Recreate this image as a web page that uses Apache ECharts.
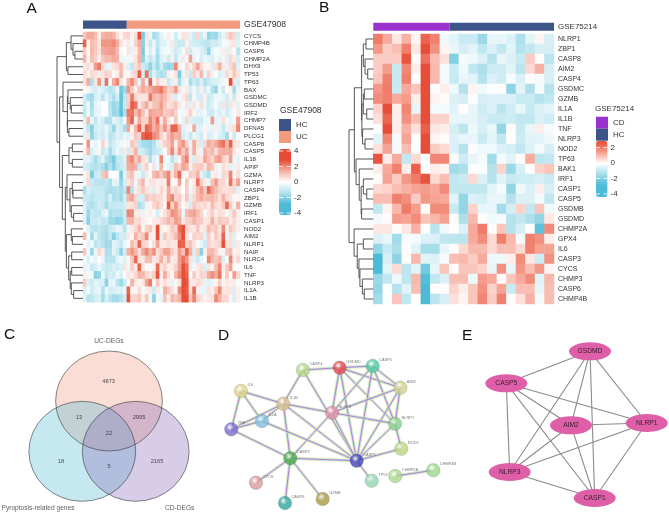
<!DOCTYPE html>
<html><head><meta charset="utf-8">
<style>html,body{margin:0;padding:0;background:#fff}#c{width:669px;height:513px}</style>
<script src="https://cdn.jsdelivr.net/npm/echarts@6/dist/echarts.min.js"></script>
</head><body><div id="c"></div>
<script>
// ---------- Panel A data ----------
const genesA=['CYCS','CHMP4B','CASP6','CHMP2A','DHX9','TP53','TP63','BAX','GSDMC','GSDMD','IRF2','CHMP7','DFNA5','PLCG1','CASP8','CASP5','IL18','APIP','GZMA','NLRP7','CASP4','ZBP1','GZMB','IRF1','CASP1','NOD2','AIM2','NLRP1','NAIP','NLRC4','IL6','TNF','NLRP3','IL1A','IL1B'];
const groupCountsA={HC:12,UC:31};
const valuesA=[
[1,1.5,1.5,1.2,.3,1.3,1.5,1.5,1.3,.6,.2,.7,.8,.2,.6,2.8,-2.2,.5,-.4,-1.6,-1.3,-.5,-.2,.3,-.2,-.9,-.2,.5,.5,-.5,-1,.7,-.9,-.4,-1.9,-1.6,-1.8,-.9,-.4,.6,1,.7,-.8],
[2.5,.3,1.2,1,.5,1.8,1.8,1.8,2,1.5,.5,.2,.4,-.3,.8,1.5,-2,.3,-1,-.4,-1.2,-.6,-.6,-.3,.4,-.8,-1,-1,.3,-.7,-.8,-.9,-1,-1.2,-1.2,-.9,-.9,-.7,-.2,-.2,.4,.5,-.6],
[1,.2,1.3,1,.5,1.5,1.6,1.7,1.7,1.2,.1,0,.5,-.5,.3,1.2,-2.2,.1,-.7,-.3,-1.5,-.5,-.3,-.2,-.5,-.9,-.6,-.2,.6,-.9,-.4,-.3,-.7,-.9,-1.9,-.5,-.2,-.3,.3,-.6,.4,-.2,-1.3],
[1.3,.2,1.2,.8,.3,1,1.3,1.3,1.5,1.4,-.4,-.3,-.3,.2,.5,1.4,-2,-.6,-1.1,-.7,-1.6,-.7,-.5,-.9,.3,-1.1,-.4,.4,-.3,1.6,-.5,-.2,-.8,-.4,-.6,-.7,-.3,-.5,.2,-.7,.7,.4,-.8],
[.4,.6,.3,1.7,2.2,.7,-.5,-.4,.5,.7,1.2,.3,-.7,-1.2,.6,1,-.9,-1.2,-1.9,-1,-1.7,-.8,-1.6,-1.8,-1.7,2,.3,-.2,.7,.3,.8,1.6,.6,.2,.2,-.6,.6,1.4,.4,-.5,.7,1.1,-.6],
[.6,.3,.7,.5,.4,.5,.8,.7,.1,.3,1.3,.2,-.1,.5,.7,2.6,-.8,2.3,-1.5,-.6,-1.2,-1.5,-1.3,.3,.1,.5,-2.2,-.4,.5,-1,.9,.4,1.3,-.5,.8,-.4,.1,-.7,-.5,.7,.3,1,.5],
[.5,1.5,-1.5,.5,1.8,-.7,2.3,-.3,1.5,2,.4,.2,1.3,2,1,-.5,1.5,-.5,2.5,.2,.8,.3,.3,-1,-.5,.3,-1.5,-.5,-.3,-1.5,-1,-1.3,-.7,-1.4,-1,-.8,-.7,-.5,-.3,.2,2.8,.4,-.8],
[.1,.2,-.6,-.8,-.5,-.7,-1,-1.3,-1.1,-.4,-2.3,-1.7,1.8,1,.3,1,1.5,1.2,1.5,1.8,1.9,2.2,1.5,.8,1,1.7,.5,-.3,.4,-.8,-.3,-.8,.3,-.9,-.4,-1.4,-1.8,-.3,-1,.1,.3,-1.6,-.4],
[-.8,-1.5,-1.7,-.8,-.6,-1.3,-.5,-1,-1.5,-.8,-2.5,-1.2,.8,2.2,.7,.5,.5,.5,2.2,1.3,1.1,1.5,1.2,.7,.5,-.8,-.2,.4,.7,-1.2,.2,-.7,-.8,.3,-1,-.8,-.3,-.3,-.5,-.9,.3,-1,.2],
[-1,-.4,-1.6,-.5,-.3,0,0,-1.4,-1.8,-1.5,-2.5,-1,1,2.6,2.3,.4,1,1.5,.5,1.1,1.2,1.7,1,.5,.7,1,.4,-.3,.5,-.6,.5,-.3,.6,-.5,-1,-.6,-.2,-.6,.5,-.9,.5,.3,-.5],
[-1.2,-.3,-1.4,-.5,-.4,-.1,-.1,-1.2,-1.8,-1.7,-2.6,-1.5,2.2,2.3,1.2,1.8,1.1,.3,1.6,1.5,1.4,1.5,.9,1,1.2,.8,-.2,-.3,.3,.8,.2,-.5,-.5,-.3,-.9,-1,-.4,-.7,-.4,-.9,-.5,-.2,.4],
[-.6,1.2,-.4,-1.1,-.5,-.8,-1.5,-1.4,-.5,-.7,-1.1,-.3,1.8,2.5,.3,1.5,.8,.8,2,1.4,2.3,.4,1.5,.5,-.2,1,-.2,-.5,.7,-.6,-.8,-.8,-.9,-.4,-.3,1.7,-.5,-.4,.6,-.2,-.5,-.3,1.7],
[-.4,-1.2,-2,-.8,-.7,-.8,-.4,-1,-1.8,-.7,-.8,-1.6,1.5,.2,1.3,2.5,.8,2.5,2.2,1.4,1.8,1,1.8,.8,2.5,2.5,1.3,-.7,.3,-.3,1.5,-.6,-.6,.2,-.4,-.5,.3,-.5,-1,-.5,.4,.6,2],
[-.6,.5,-1.9,-1,-.7,-.9,-.5,-1.3,-1.1,-.6,-.8,-.4,-.6,.3,1,.8,2.5,2.8,2.7,2,1.7,.8,.4,1.2,1.7,1.3,1.5,-.8,-.5,-1.1,-.4,-.6,-.9,.2,-.8,-.6,-.3,-.7,-.9,-1.7,.2,-.9,-.2],
[0,1.8,-.2,-.5,-.2,.8,.2,-1.2,-.8,-.5,-.3,.2,-.4,1,.7,-1.2,-1.6,-1.7,-1.8,-1.4,-.6,.4,.8,1,1.6,.3,1.4,1.8,.8,-.5,1.5,.5,-.8,.7,1.5,1.2,1.5,2,2.3,1.3,2.5,.5,.4],
[.3,1.3,-.8,-.4,.2,-1,-.7,-1.6,-.9,-.4,-.7,.4,-.9,.6,1.4,-.8,-.9,-1.3,-1.7,-1.2,-1,-.7,0,1,2,.5,1.8,1,1.6,-.6,1.4,.3,-.4,1.4,1,1.3,.6,1.3,1.5,1.4,1.5,.4,.2],
[-.6,-.5,-.9,-1.6,-1,-.5,-1.5,-1.7,-2.2,-1.1,-1,-.6,1.6,2,1,1.5,.5,.4,-1.5,-.6,-.3,2,-.3,-.2,-1.3,-.6,.2,1.5,2.1,.3,-.8,.5,.4,1.6,1.1,.7,1.5,1.7,.9,.5,1.6,-.3,-.5],
[-.8,-1,-1.3,-1.4,-1.2,-1.5,-2,-1.4,-2,-1.3,-1,-.7,1.5,1.6,1.4,-1,.5,.8,-.1,.5,-.4,1.3,-.2,-.5,-.7,1.2,.8,1.6,1.4,.3,.8,.9,1,.5,1.3,1,.3,-.3,.6,.4,-.6,-.4,.4],
[.2,.5,-2.2,-1,-.9,1,1.3,0,0,-.2,-2.2,-.5,.9,1.2,.2,-.4,-1,.4,-.2,1.2,1.5,.9,1.5,2,.5,1.4,2.4,.2,.2,.9,.8,1.4,-.6,-1,-1.5,.3,.4,-.3,.7,.6,2,.1,.6],
[-.3,.7,-1,-1.3,-1.3,-1.3,-1.1,-1.5,-.5,-.6,-1.9,-.8,.5,.9,-.3,.8,1.3,-.2,.5,.5,.3,.4,.3,2.2,-.2,.1,1.6,0,1,-.2,.4,2.3,.9,.3,-.4,1.1,1.7,.7,.7,.4,2.3,.6,1.6],
[-1.5,-.7,-1,-1,-1,-1,-1.4,-1.5,-1.4,-1.3,-1.6,-1.2,2,-1.4,.3,.6,1,.5,.4,-.7,.3,.7,.3,1.5,.5,.8,.4,0,.9,-.3,.5,1.2,1.7,1,2.4,1.6,1.2,.8,.6,.5,.6,.7,-.6],
[-1,-1,-1.3,-1,-1,-1,-1.4,-.7,-1.5,-1.3,-1.7,-.8,1.3,1.6,.7,-.8,-.8,1,.7,.9,.7,.6,.3,1.6,2,.7,.9,.3,1,-.6,.7,1.2,1.5,1.1,1.2,1.3,1,.6,1.4,.7,.5,-.2,.2],
[-.7,-1.3,-1.5,-1.2,-.9,-1,-1.6,-1.1,-1.1,-1,-1,-.8,.5,.6,.8,-1.5,-1.2,.3,.2,.7,1,.6,.2,2.6,.8,1.8,.8,.1,.4,-.8,1,.7,.6,.7,.4,1.2,.7,.5,1,2.4,.9,-.4,1.4],
[-.5,-1.8,-1,-1.2,-1.2,-.7,-.3,-1.5,-1.3,-1.3,-1.4,-.9,2,2,.3,.4,-.5,.2,.3,-.2,-.8,.2,.5,1,1.9,1.7,1.2,-.5,1.2,1.5,1.6,1.2,.8,-.2,.5,.9,.3,.6,.5,-.3,.5,1,.3],
[-.6,-2,-1,-1,-.8,-1.1,-1,-1.7,-1.7,-2,-1.8,-1,1.3,1.4,.6,.7,.3,.2,0,.4,.4,.7,1,1.3,1,1.7,1.5,.4,.8,.9,1.4,1,.9,.4,.5,1.4,.6,1,.8,.9,.3,.7,.3],
[.1,-.6,-1.2,-1.3,-1.1,-1.3,-1.5,-1,-.8,-.4,-.6,-1.3,-.3,.4,.7,1.3,.2,.8,1,.3,2.8,.3,.2,.4,1,.8,2.4,2.8,.8,.5,.4,1,.3,.5,1.2,.8,1,.5,1.9,.3,1,.6,.3],
[1.2,-.2,-1.6,-.5,-1.2,-1.4,-1.6,-1.1,-2,-1.2,-.8,-.9,.4,.2,1.4,.8,1,2,.3,.3,2.8,-.5,1,.5,.7,1.2,2,2.8,.6,-.3,.8,.7,.7,-.6,.9,.3,1,.6,2.5,-.4,.6,-.6,-.1],
[0,-.5,-.3,-1.2,-1,-1.3,-1.7,-1.6,-.5,-.7,-1.1,-.4,-.2,1.2,.7,2.5,.8,.7,-.2,.6,1.6,.4,.4,.6,.4,.4,2.6,2.5,.8,1.1,.5,-.2,-.4,-1,.8,.5,.6,.8,2.8,.5,.6,-.7,.4],
[1,-.3,-1.8,-.4,.7,.3,-1.5,-1.4,-.5,-1,-1.9,-.8,1.4,1.8,1.3,.6,1.5,2,1.4,1.9,.6,1,1.6,1.6,.9,.5,1.7,1.1,2.5,1.4,-.7,.8,-2,.3,1.2,1.3,.8,.3,-.3,1,1.2,.2,.4],
[-.2,-.7,-.2,-.5,0,-.4,-1.3,-1.3,-1.3,-.6,-.3,-.6,.2,1,2.4,.5,.4,1.2,1.2,.4,.6,1.4,.5,1.3,.3,.5,1.7,2.3,1.8,.5,-.6,-1,-.4,.1,2,1.3,1,1.3,-.7,-.1,2,.3,.7],
[-.5,-.4,-1,-.8,-.4,-.8,-1,-1,-.7,-.9,-.7,.5,-.4,.9,.4,2.5,.5,.1,-.2,.3,2.4,.5,.8,.3,.4,.8,1.7,2.8,2.3,.4,-.3,.4,.6,-.7,.5,.2,1.2,2,.3,1,1.6,.1,-.1],
[.3,-.3,-.2,-2,-1.8,-.3,-1.2,-.8,-.9,-.3,-.7,-.1,.5,.3,.7,1.4,1.3,.7,.5,.9,2.7,.3,1.5,.6,.1,1.3,2,2.8,2.5,-.2,.9,.3,.8,.7,1.5,1.9,1.5,2.3,.2,1,.1,1.7,.7],
[.9,-.7,-.9,-.5,-.7,-.7,-2,-.5,-.4,-1.3,-1.7,-1,-.2,1.4,.4,.2,.4,1.6,2.2,-.2,1,.3,.6,.3,-.5,.2,.5,2.8,2.7,.4,.4,.7,.5,-.5,-.6,-.4,.2,.9,.2,.4,.3,.4,-.2],
[-.8,-.2,-.9,-.6,-.4,-1.4,-.4,-.8,-.7,-.5,-.7,-.4,2.5,.2,.2,.6,-.2,.3,.4,-1,.4,-.3,1.5,1,.6,.2,2,2.8,2.6,.6,2.4,.3,-.4,-.5,.5,.3,1,2,.5,.5,.5,-.7,.3],
[-.5,-1.3,-1.2,-.8,-.7,-1.6,-.7,-1.3,-1.6,-1.6,-1.3,-.8,2.7,.7,.8,1,.3,1,-.4,-2,-.2,-.5,1.1,.3,1.3,1,1.4,2.8,2.8,1,2.1,.8,.5,.2,.4,.5,2,1.4,.7,.7,.2,-.8,.3]
];
// row dendrogram A: [height, childA, childB], leaves are row indices
const treeA=[1,
 [.64,[.46,0,[.385,1,[.31,2,3]]],[.58,4,5]],
 [.9,
  [.77,6,[.6,[.58,7,[.49,8,[.45,9,10]]],[.6,11,[.54,12,13]]]],
  [.795,
   [.54,[.41,14,15],[.41,16,17]],
   [.68,
    [.615,18,[.5,[.41,19,[.385,20,21]],[.45,22,[.36,23,24]]]],
    [.64,[.45,25,[.41,26,27]],[.55,[.435,28,29],[.49,[.435,30,31],[.45,32,[.36,33,34]]]]]
   ]
  ]
 ]
];
const ticksA=[4,2,0,-2,-4];

// ---------- Panel B data ----------
const genesB=['NLRP1','ZBP1','CASP8','AIM2','CASP4','GSDMC','GZMB','IL1A','IL1B','TNF','NLRP3','NOD2','TP63','BAK1','IRF1','CASP1','CASP5','GSDMB','GSDMD','CHMP2A','GPX4','IL6','CASP3','CYCS','CHMP3','CASP6','CHMP4B'];
const groupCountsB={CD:8,HC:11};
const valuesB=[
[2,1.2,.3,1.1,.1,2.4,1.9,-.3,-.5,-.9,-.9,-1.6,-.4,-.4,-.6,-1.3,-.5,.1,-.7],
[1.5,.7,.9,1.9,.3,2.8,1.6,.1,-.4,-.7,-.5,-1,-.6,-1,-.5,-1.2,-1,-.7,-.7],
[.7,.7,.7,2.7,0,2.2,.9,.4,-2,-.2,-.3,-.6,-1.2,-.4,-.6,-.9,.7,0,-1.1],
[.7,1.4,-.9,1.8,.2,2.8,1,-.2,-.9,-.3,-1,-1.3,-.8,-.8,-.5,-1.1,.5,1.1,-.7],
[.8,1.9,-.9,1.9,-.1,2.8,1,-.2,-.9,-.4,-.5,-1.2,-.6,-.8,-.2,-.6,0,-.2,-.7],
[1.5,2,-.9,1.2,.8,2.8,-.1,.2,-.3,-1.2,.1,-.3,-.1,0,-1.8,-.5,-1.3,-.2,-1.2],
[1.7,1.9,1.2,1.4,.2,2.8,.1,0,-.6,-.7,-.1,-.7,-.6,-.6,-.6,-.9,-.9,-1.2,-1],
[.6,2.8,.2,1.8,-.4,2.8,-.2,-.2,-.5,0,-.4,-.8,-.6,-1.1,-.8,-.4,-.9,-.6,-.5],
[.4,2.4,.2,1.6,.9,2.8,.6,.6,-.4,-.4,-.4,-.7,-.9,-.9,-.8,-1,-1,-.6,-.8],
[-.1,2.8,.2,1.1,.4,2.5,.3,.2,-.7,-1.1,-.3,-.7,-.4,-1.7,0,-.9,-.4,.2,-.2],
[-.5,1.8,-.2,1.3,-.1,2.8,.1,0,-.6,-.4,-.4,-.9,-.5,-1,0,-.8,-.5,-.5,-.3],
[.4,1.3,-.2,.9,-.1,2.8,.7,.5,-.6,-1.2,0,-.3,-.3,-.6,-.7,-1,-.6,-.2,-.7],
[2.7,.2,1.2,-1,.5,-.1,1.8,1.8,0,-.8,-.4,-.2,-1.5,-.2,-.5,0,1.2,-1.1,-1],
[.2,1.2,1.9,.2,2.5,-.1,.2,.1,-1.5,-1.3,-.1,-.1,-1.2,.6,-1.6,-.7,0,.6,.8],
[0,1.3,.7,1.5,2,2.7,.5,.9,-1,-.9,.5,-.6,-1.2,-.5,-.9,-.8,-.8,-.7,-.9],
[.5,.6,.9,1.1,1.3,1.4,1.2,1.7,-1,-1,-1,-1,-.5,-.2,-1.7,-.3,-.6,.2,-.7],
[.9,.9,1.9,1.6,.7,1.5,1.3,1.2,-.5,-1.7,-.6,-.7,-.4,-.4,-1.2,-.6,-.6,-.2,-1],
[-1,.1,1,2,1.4,-.1,1.7,1.7,-.9,-1.7,.6,-.4,-.4,-1.5,-.7,.6,-1,.8,-.3],
[-.2,0,1.4,1.3,1.7,.8,1,1.3,0,-1.3,1,0,-.3,-.2,-1.2,-1,-1.3,-1.7,.3],
[.3,.3,0,.3,1.1,-.1,-1.1,-.3,0,-.6,1.2,2,0,.8,-1.2,-.7,0,-2.6,1.7],
[-.6,-.4,-1.5,-.2,-.2,-.6,-.6,-1,-1.1,-1.1,1.2,1.7,.5,1.9,1,-.2,1.9,1.6,.2],
[-1.7,-.9,-1.3,0,-.5,-1.4,-1.4,-.4,0,.5,1,1,.5,.9,.9,.5,1.9,1.3,1.3],
[-3.5,-.7,-1.8,0,1,-.5,-.6,-.2,.9,1,.7,1.2,-.3,-.3,.2,1.7,.3,-.8,1.6],
[-3.5,-.5,.5,-1.1,-.5,-2.2,-.4,.8,0,.8,.8,.6,-.4,1.6,-.4,1.5,.9,1.5,.1],
[-1.6,-1,-.3,-1,1,-2.8,-1,-.6,.9,.9,-.3,1.4,1.2,0,.8,1.2,1.7,-.5,1],
[-1.7,-.1,-1.2,-.5,.9,-3.2,0,0,.6,.2,.8,1.6,.6,1.3,-.9,.9,.9,-.4,.9],
[-1.5,-.1,.8,-1,0,-3.2,-1.1,-.7,.4,.1,.8,1.8,.7,1.9,0,.4,1.1,-.2,.9]
];
const treeB=[1,
 [.78,
  [.48,
   [.41,[.3,0,1],[.34,2,[.23,3,4]]],
   [.47,[.41,[.37,5,6],[.27,7,8]],[.44,9,[.34,10,11]]]
  ],
  [.71,12,[.58,13,[.5,[.41,14,[.27,15,16]],[.48,17,18]]]]
 ],
 [.79,19,[.66,[.41,20,21],[.59,22,[.55,23,[.45,24,[.37,25,26]]]]]]
];
const ticksB=[2,0,-2,-4];

// ---------- Panel C data ----------
const vennSets=['UC-DEGs','Pyroptosis-related genes','CD-DEGs'];
const vennCounts=[4873,13,2995,22,18,5,2165];

// ---------- Panel D data ----------
const stringNodes=['CASP4','GSDMD','CASP5','AIM2','IL6','IL1B','NLRP3','NLRP1','IL1A','TNF','NOD2','CASP3','CASP1','TP53','CHMP2A','CHMP4B','CYCS','CASP6','GZMB'];
const stringLinks=[['CASP4','GSDMD'],['CASP4','IL1B'],['CASP4','CASP1'],['GSDMD','CASP5'],['GSDMD','AIM2'],['GSDMD','NLRP3'],['GSDMD','CASP1'],['GSDMD','NLRP1'],['CASP5','AIM2'],['CASP5','NLRP3'],['CASP5','CASP1'],['CASP5','NLRP1'],['AIM2','NLRP3'],['AIM2','NLRP1'],['AIM2','CASP1'],['IL6','IL1B'],['IL6','IL1A'],['IL6','TNF'],['IL1B','NLRP3'],['IL1B','IL1A'],['IL1B','TNF'],['IL1B','CASP3'],['IL1B','CASP1'],['NLRP3','NLRP1'],['NLRP3','CASP1'],['NLRP3','CASP3'],['NLRP1','CASP1'],['NLRP1','NOD2'],['NOD2','CASP1'],['IL1A','TNF'],['IL1A','CASP1'],['TNF','CASP3'],['CASP3','CASP1'],['CASP3','CYCS'],['CASP3','CASP6'],['CASP3','GZMB'],['CASP1','TP53'],['CHMP2A','CHMP4B']];

// ---------- Panel E data ----------
const hubNodes=['GSDMD','CASP5','AIM2','NLRP1','NLRP3','CASP1'];
const hubLinks=[['GSDMD','CASP5'],['GSDMD','AIM2'],['GSDMD','NLRP1'],['GSDMD','NLRP3'],['GSDMD','CASP1'],['CASP5','AIM2'],['CASP5','NLRP1'],['CASP5','NLRP3'],['CASP5','CASP1'],['AIM2','NLRP1'],['AIM2','NLRP3'],['AIM2','CASP1'],['NLRP1','NLRP3'],['NLRP1','CASP1'],['NLRP3','CASP1']];

// ---------- Layout & style (kept apart from the data) ----------
const FONT='"Liberation Sans",Arial,sans-serif';
const C={navy:'#3C5488',salmon:'#F39B7F',purple:'#9932CC',blue:'#4DBBD5',red:'#E64B35',txt:'#333'};
const stringPos={CASP4:[303,370],GSDMD:[339.7,367.7],CASP5:[372.7,366],AIM2:[400.3,387.7],IL6:[241,391],IL1B:[283.3,403.7],NLRP3:[332,412.7],NLRP1:[395,423.7],IL1A:[262,421],TNF:[231.3,429.3],NOD2:[401.3,448.7],CASP3:[290.3,458.3],CASP1:[356.7,460.7],TP53:[371.7,480.7],CHMP2A:[395.3,476],CHMP4B:[433.3,470.3],CYCS:[256,482.7],CASP6:[285,503],GZMB:[322.7,499]};
const stringCol={CASP4:'#B5D68C',GSDMD:'#E0474C',CASP5:'#4FC9A0',AIM2:'#CFD08E',IL6:'#DCD38A',IL1B:'#D8BE8C',NLRP3:'#E08CA5',NLRP1:'#85CF8C',IL1A:'#7FBDE0',TNF:'#7A6BD0',NOD2:'#B9D67F',CASP3:'#47A84C',CASP1:'#4040B8',TP53:'#8FD8B0',CHMP2A:'#A8D88C',CHMP4B:'#9AD88C',CYCS:'#D89A9A',CASP6:'#2FA8A0',GZMB:'#A89A40'};
const hubPos={GSDMD:[590,351.3],CASP5:[506.3,383.3],AIM2:[571,425.3],NLRP1:[646.7,423],NLRP3:[509.7,472],CASP1:[594.7,498]};
const vennPos={'UC-DEGs':[109,401],'Pyroptosis-related genes':[82.3,451.3],'CD-DEGs':[135.7,451.3]};
const vennFill={'UC-DEGs':'rgba(240,150,120,.4)','Pyroptosis-related genes':'rgba(77,187,213,.4)','CD-DEGs':'rgba(135,98,182,.4)'};
const vennLabelPos=[[108.7,381.3],[79,417.7],[139,417.7],[109,433.3],[61,461.7],[109,466.7],[157,461.7]];
const vennTitlePos=[[109,341.3],[38,507.7],[179.7,507.7]];

function range(n){return Array.from({length:n},(_,i)=>String(i));}
function cells(rows,nc){const out=[];rows.forEach((r,i)=>{for(let c=0;c<nc;c++)out.push([c,i,r[c]??0]);});return out;}
function treeLinks(t,out){
  if(typeof t==='number')return {h:0,y:t+.5};
  const a=treeLinks(t[1],out),b=treeLinks(t[2],out);
  out.push([a.h,a.y,b.h,b.y,t[0]]);
  return {h:t[0],y:(a.y+b.y)/2};
}
function dendroItem(params,api){
  const n=api.value(4),p=[[api.value(0),api.value(1)],[n,api.value(1)],[n,api.value(3)],[api.value(2),api.value(3)]].map(q=>api.coord(q));
  return {type:'polyline',shape:{points:p},style:{stroke:'#444',lineWidth:.9,fill:null}};
}
const linksA=[],linksB=[];treeLinks(treeA,linksA);treeLinks(treeB,linksB);

const ncA=groupCountsA.HC+groupCountsA.UC, ncB=groupCountsB.CD+groupCountsB.HC;
const geo={A:{l:83,t:32,w:157,h:270.2,at:20.5,ah:8.2,dl:57,dw:26},B:{l:373.3,t:34,w:180.7,h:270,at:22.7,ah:8,dl:349,dw:24.3}};
const grids=[
 {left:geo.A.l,top:geo.A.t,width:geo.A.w,height:geo.A.h},
 {left:geo.A.l,top:geo.A.at,width:geo.A.w,height:geo.A.ah},
 {left:geo.A.dl,top:geo.A.t,width:geo.A.dw,height:geo.A.h},
 {left:geo.B.l,top:geo.B.t,width:geo.B.w,height:geo.B.h},
 {left:geo.B.l,top:geo.B.at,width:geo.B.w,height:geo.B.ah},
 {left:geo.B.dl,top:geo.B.t,width:geo.B.dw,height:geo.B.h},
 {left:0,top:0,width:669,height:513}
].map(g=>Object.assign(g,{containLabel:false}));
const rowAxis=(gi,names,fs,col)=>({type:'category',gridIndex:gi,data:names,inverse:true,position:'right',axisLine:{show:false},axisTick:{show:false},axisLabel:{interval:0,fontSize:fs,margin:4,color:col||'#333',fontFamily:FONT}});
const xAxis=[
 {type:'category',gridIndex:0,data:range(ncA),show:false},
 {type:'value',gridIndex:1,min:0,max:ncA,show:false},
 {type:'value',gridIndex:2,min:0,max:1,inverse:true,show:false},
 {type:'category',gridIndex:3,data:range(ncB),show:false},
 {type:'value',gridIndex:4,min:0,max:ncB,show:false},
 {type:'value',gridIndex:5,min:0,max:1,inverse:true,show:false},
 {type:'value',gridIndex:6,min:0,max:669,show:false}
];
const yAxis=[
 rowAxis(0,genesA,6.2),
 rowAxis(1,['GSE47908'],8.6),
 {type:'value',gridIndex:2,min:0,max:genesA.length,inverse:true,show:false},
 rowAxis(3,genesB,7),
 rowAxis(4,['GSE75214'],8),
 {type:'value',gridIndex:5,min:0,max:genesB.length,inverse:true,show:false},
 {type:'value',gridIndex:6,min:0,max:513,inverse:true,show:false}
];
const heat=(i,rows,nc)=>({type:'heatmap',xAxisIndex:i,yAxisIndex:i,data:cells(rows,nc),itemStyle:{borderWidth:0},progressive:0,silent:true,emphasis:{disabled:true}});
const bar=(i,name,v,color,st)=>({type:'bar',name,xAxisIndex:i,yAxisIndex:i,stack:st,data:[v],barWidth:'100%',itemStyle:{color},silent:true});
const dendro=(i,d)=>({type:'custom',xAxisIndex:i,yAxisIndex:i,data:d,renderItem:dendroItem,silent:true,encode:{x:[0,2,4],y:[1,3]}});

// D edges: several thin coloured strands side by side, purple strand drawn last
const strands=[{o:-1.2,c:'#E8E68E',w:.7},{o:1.2,c:'#E8E68E',w:.7},{o:-.6,c:'#8FD8EA',w:.7},{o:.6,c:'#8FD8EA',w:.7},{o:0,c:'#B264C6',w:.8}];
const edgeData=stringLinks.map(([a,b])=>[...stringPos[a],...stringPos[b]]);
function edgeItem(params,api){
  const p=api.coord([api.value(0),api.value(1)]),q=api.coord([api.value(2),api.value(3)]);
  const dx=q[0]-p[0],dy=q[1]-p[1],L=Math.hypot(dx,dy)||1,nx=-dy/L,ny=dx/L;
  return {type:'group',children:strands.map(s=>({type:'line',shape:{x1:p[0]+nx*s.o,y1:p[1]+ny*s.o,x2:q[0]+nx*s.o,y2:q[1]+ny*s.o},style:{stroke:s.c,lineWidth:s.w}}))};
}
const series=[
 heat(0,valuesA,ncA),
 bar(1,'HC',groupCountsA.HC,C.navy,'a'),
 bar(1,'UC',groupCountsA.UC,C.salmon,'a'),
 dendro(2,linksA),
 heat(3,valuesB,ncB),
 bar(4,'CD',groupCountsB.CD,C.purple,'b'),
 bar(4,'HC',groupCountsB.HC,C.navy,'b'),
 dendro(5,linksB),
 // C: venn
 {type:'scatter',xAxisIndex:6,yAxisIndex:6,silent:true,symbol:'circle',symbolSize:[106.8,100],z:3,
  data:vennSets.map(n=>({value:vennPos[n],itemStyle:{color:vennFill[n],borderWidth:0}}))},
 {type:'scatter',xAxisIndex:6,yAxisIndex:6,silent:true,symbol:'circle',symbolSize:[106.8,100],z:4,
  data:vennSets.map(n=>({value:vennPos[n],itemStyle:{color:'rgba(0,0,0,0)',borderColor:'#2f2f2f',borderWidth:.7}}))},
 {type:'scatter',xAxisIndex:6,yAxisIndex:6,silent:true,symbolSize:0,z:5,
  data:vennCounts.map((v,i)=>({value:vennLabelPos[i],label:{show:true,formatter:String(v),position:'inside',fontSize:5.7,color:'#222',fontFamily:FONT}}))},
 {type:'scatter',xAxisIndex:6,yAxisIndex:6,silent:true,symbolSize:0,z:5,
  data:vennSets.map((v,i)=>({value:vennTitlePos[i],label:{show:true,formatter:v,position:'inside',fontSize:6.6,color:'#333',fontFamily:FONT}}))},
 // D: STRING-style network
 {type:'custom',xAxisIndex:6,yAxisIndex:6,data:edgeData,renderItem:edgeItem,silent:true,z:6,encode:{x:[0,2],y:[1,3]}},
 {type:'scatter',xAxisIndex:6,yAxisIndex:6,silent:true,symbol:'circle',symbolSize:13.5,z:7,
  data:stringNodes.map(n=>({value:stringPos[n],name:n,itemStyle:{borderColor:'rgba(90,90,90,.45)',borderWidth:.6,color:{type:'radial',x:.4,y:.35,r:.75,colorStops:[{offset:0,color:'#fff'},{offset:.35,color:stringCol[n]},{offset:1,color:stringCol[n]}]}},
   label:{show:true,formatter:n,position:'right',distance:-.5,offset:[0,-6],fontSize:3.9,color:'#555',fontFamily:FONT}}))},
 // E: hub network
 {type:'graph',coordinateSystem:'cartesian2d',xAxisIndex:6,yAxisIndex:6,layout:'none',silent:true,z:8,symbol:'circle',symbolSize:[42,18],
  data:hubNodes.map(n=>({name:n,value:hubPos[n]})),links:hubLinks.map(([source,target])=>({source,target})),
  itemStyle:{color:'#DE5FA8'},lineStyle:{color:'#8b8b8b',width:1.1,opacity:1},
  label:{show:true,position:'inside',fontSize:6.7,color:'#3a2030',fontFamily:FONT}}
];

// colour bars
const barA={l:279,t:149,w:12,h:66,min:-4.26,max:4.26};
const barB={l:596,t:141,w:11.5,h:56,min:-4.4,max:2.86};
const visualMap=[
 {type:'continuous',seriesIndex:0,dimension:2,min:barA.min,max:barA.max,left:barA.l,top:barA.t,itemWidth:barA.w,itemHeight:barA.h,padding:0,calculable:false,hoverLink:false,text:null,showLabel:false,
  inRange:{color:[C.blue,C.blue,'#B2E1ED','#FFFFFF','#F5B0A2',C.red,C.red]}},
 {type:'continuous',seriesIndex:4,dimension:2,min:barB.min,max:barB.max,left:barB.l,top:barB.t,itemWidth:barB.w,itemHeight:barB.h,padding:0,calculable:false,hoverLink:false,text:null,showLabel:false,
  inRange:{color:[C.blue,C.blue,C.blue,'#74C9DF','#A2DBE9','#D0EDF4','#FFFFFF','#FBCDC4','#F59C8C','#EE7360',C.red]}}
];
const barY=(b,v)=>b.t+(b.max-v)/(b.max-b.min)*b.h;
function barTicks(b,ticks){
  const g=[];
  ticks.forEach(v=>{
    const y=barY(b,v);
    g.push({type:'line',shape:{x1:b.l,y1:y,x2:b.l+b.w*.36,y2:y},style:{stroke:'#fff',lineWidth:.8},z:100});
    g.push({type:'line',shape:{x1:b.l+b.w*.64,y1:y,x2:b.l+b.w,y2:y},style:{stroke:'#fff',lineWidth:.8},z:100});
    g.push({type:'text',x:b.l+b.w+3,y,style:{text:String(v),font:'8px '+FONT,fill:C.txt,verticalAlign:'middle'},z:100});
  });
  return g;
}
const txt=(s,x,y,size)=>({type:'text',x,y,style:{text:s,font:size+'px '+FONT,fill:size>10?'#111':C.txt,verticalAlign:'middle'},z:100});
const graphic=[
 txt('A',26.5,9,15.5),txt('B',319,8,15.5),txt('C',4,335,15.5),txt('D',218,336,15.5),txt('E',462,335.5,15.5),
 txt('GSE47908',280,111,8.5),txt('GSE75214',595,108.5,8),
 ...barTicks(barA,ticksA),...barTicks(barB,ticksB)
];
const lg=(data,left,top)=>({data,left,top,orient:'vertical',icon:'rect',itemWidth:12,itemHeight:12,itemGap:0,padding:0,selectedMode:false,textStyle:{fontSize:8,color:C.txt,fontFamily:FONT}});

const chart=echarts.init(document.getElementById('c'),null,{renderer:'canvas',width:669,height:513});
chart.setOption({animation:false,backgroundColor:'#fff',textStyle:{fontFamily:FONT},grid:grids,xAxis,yAxis,series,visualMap,
 legend:[lg(['HC','UC'],279,119),lg(['CD','HC'],596,116.7)],graphic:{elements:graphic}});
</script></body></html>
